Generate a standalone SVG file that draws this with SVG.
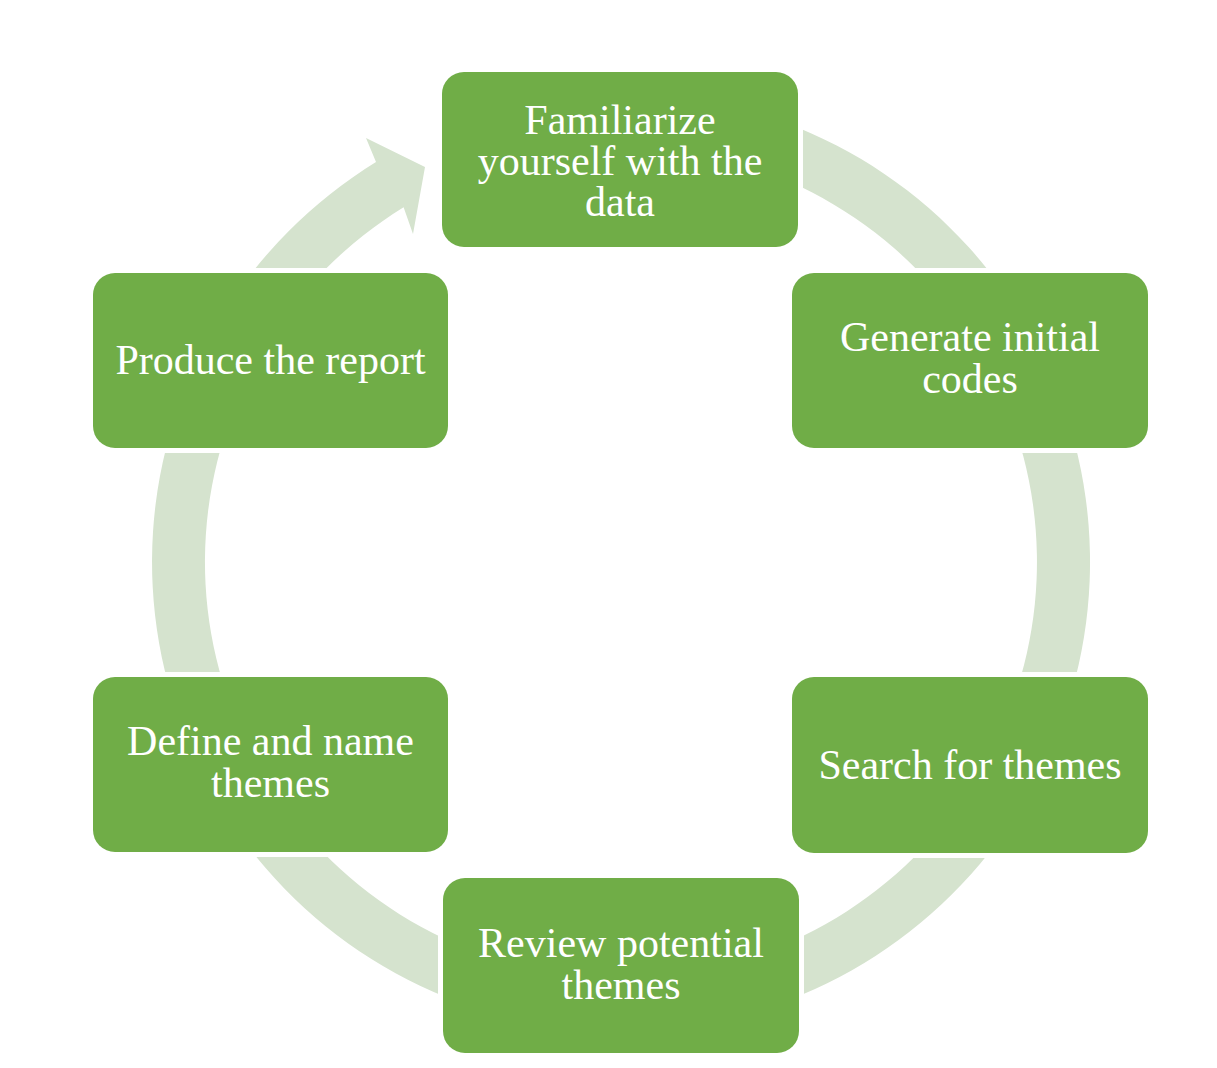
<svg xmlns="http://www.w3.org/2000/svg" width="1217" height="1068" viewBox="0 0 1217 1068">
  <style>
    .box { fill: #70ad47; stroke: #ffffff; stroke-width: 10; paint-order: stroke fill; }
    .lbl { font-family: "Liberation Serif", "Times New Roman", serif; font-size: 42px; fill: #ffffff; text-anchor: middle; }
    .ring { fill: #d5e3ce; stroke: none; }
  </style>
  <rect x="0" y="0" width="1217" height="1068" fill="#ffffff"/>
  <g id="connectors">
    <path class="ring" d="M 621 93 A 469 469 0 1 1 376 162.1 L 366 138 L 425 167 L 413 234 L 403.6 207.3 A 416 416 0 1 0 621 146 Z"/>
  </g>
  <g id="node-familiarize">
    <rect class="box" x="442" y="72" width="356" height="175" rx="22" ry="22"/>
    <text class="lbl" x="620" y="133.5">Familiarize</text>
    <text class="lbl" x="620" y="175">yourself with the</text>
    <text class="lbl" x="620" y="216">data</text>
  </g>
  <g id="node-generate">
    <rect class="box" x="792" y="273" width="356" height="175" rx="22" ry="22"/>
    <text class="lbl" x="970" y="350.5">Generate initial</text>
    <text class="lbl" x="970" y="392.5">codes</text>
  </g>
  <g id="node-search">
    <rect class="box" x="792" y="677" width="356" height="176" rx="22" ry="22"/>
    <text class="lbl" x="970" y="779">Search for themes</text>
  </g>
  <g id="node-review">
    <rect class="box" x="443" y="878" width="356" height="175" rx="22" ry="22"/>
    <text class="lbl" x="621" y="957">Review potential</text>
    <text class="lbl" x="621" y="999">themes</text>
  </g>
  <g id="node-define">
    <rect class="box" x="93" y="677" width="355" height="175" rx="22" ry="22"/>
    <text class="lbl" x="270.5" y="754.5">Define and name</text>
    <text class="lbl" x="270.5" y="796.5">themes</text>
  </g>
  <g id="node-produce">
    <rect class="box" x="93" y="273" width="355" height="175" rx="22" ry="22"/>
    <text class="lbl" x="270.5" y="374">Produce the report</text>
  </g>
</svg>
